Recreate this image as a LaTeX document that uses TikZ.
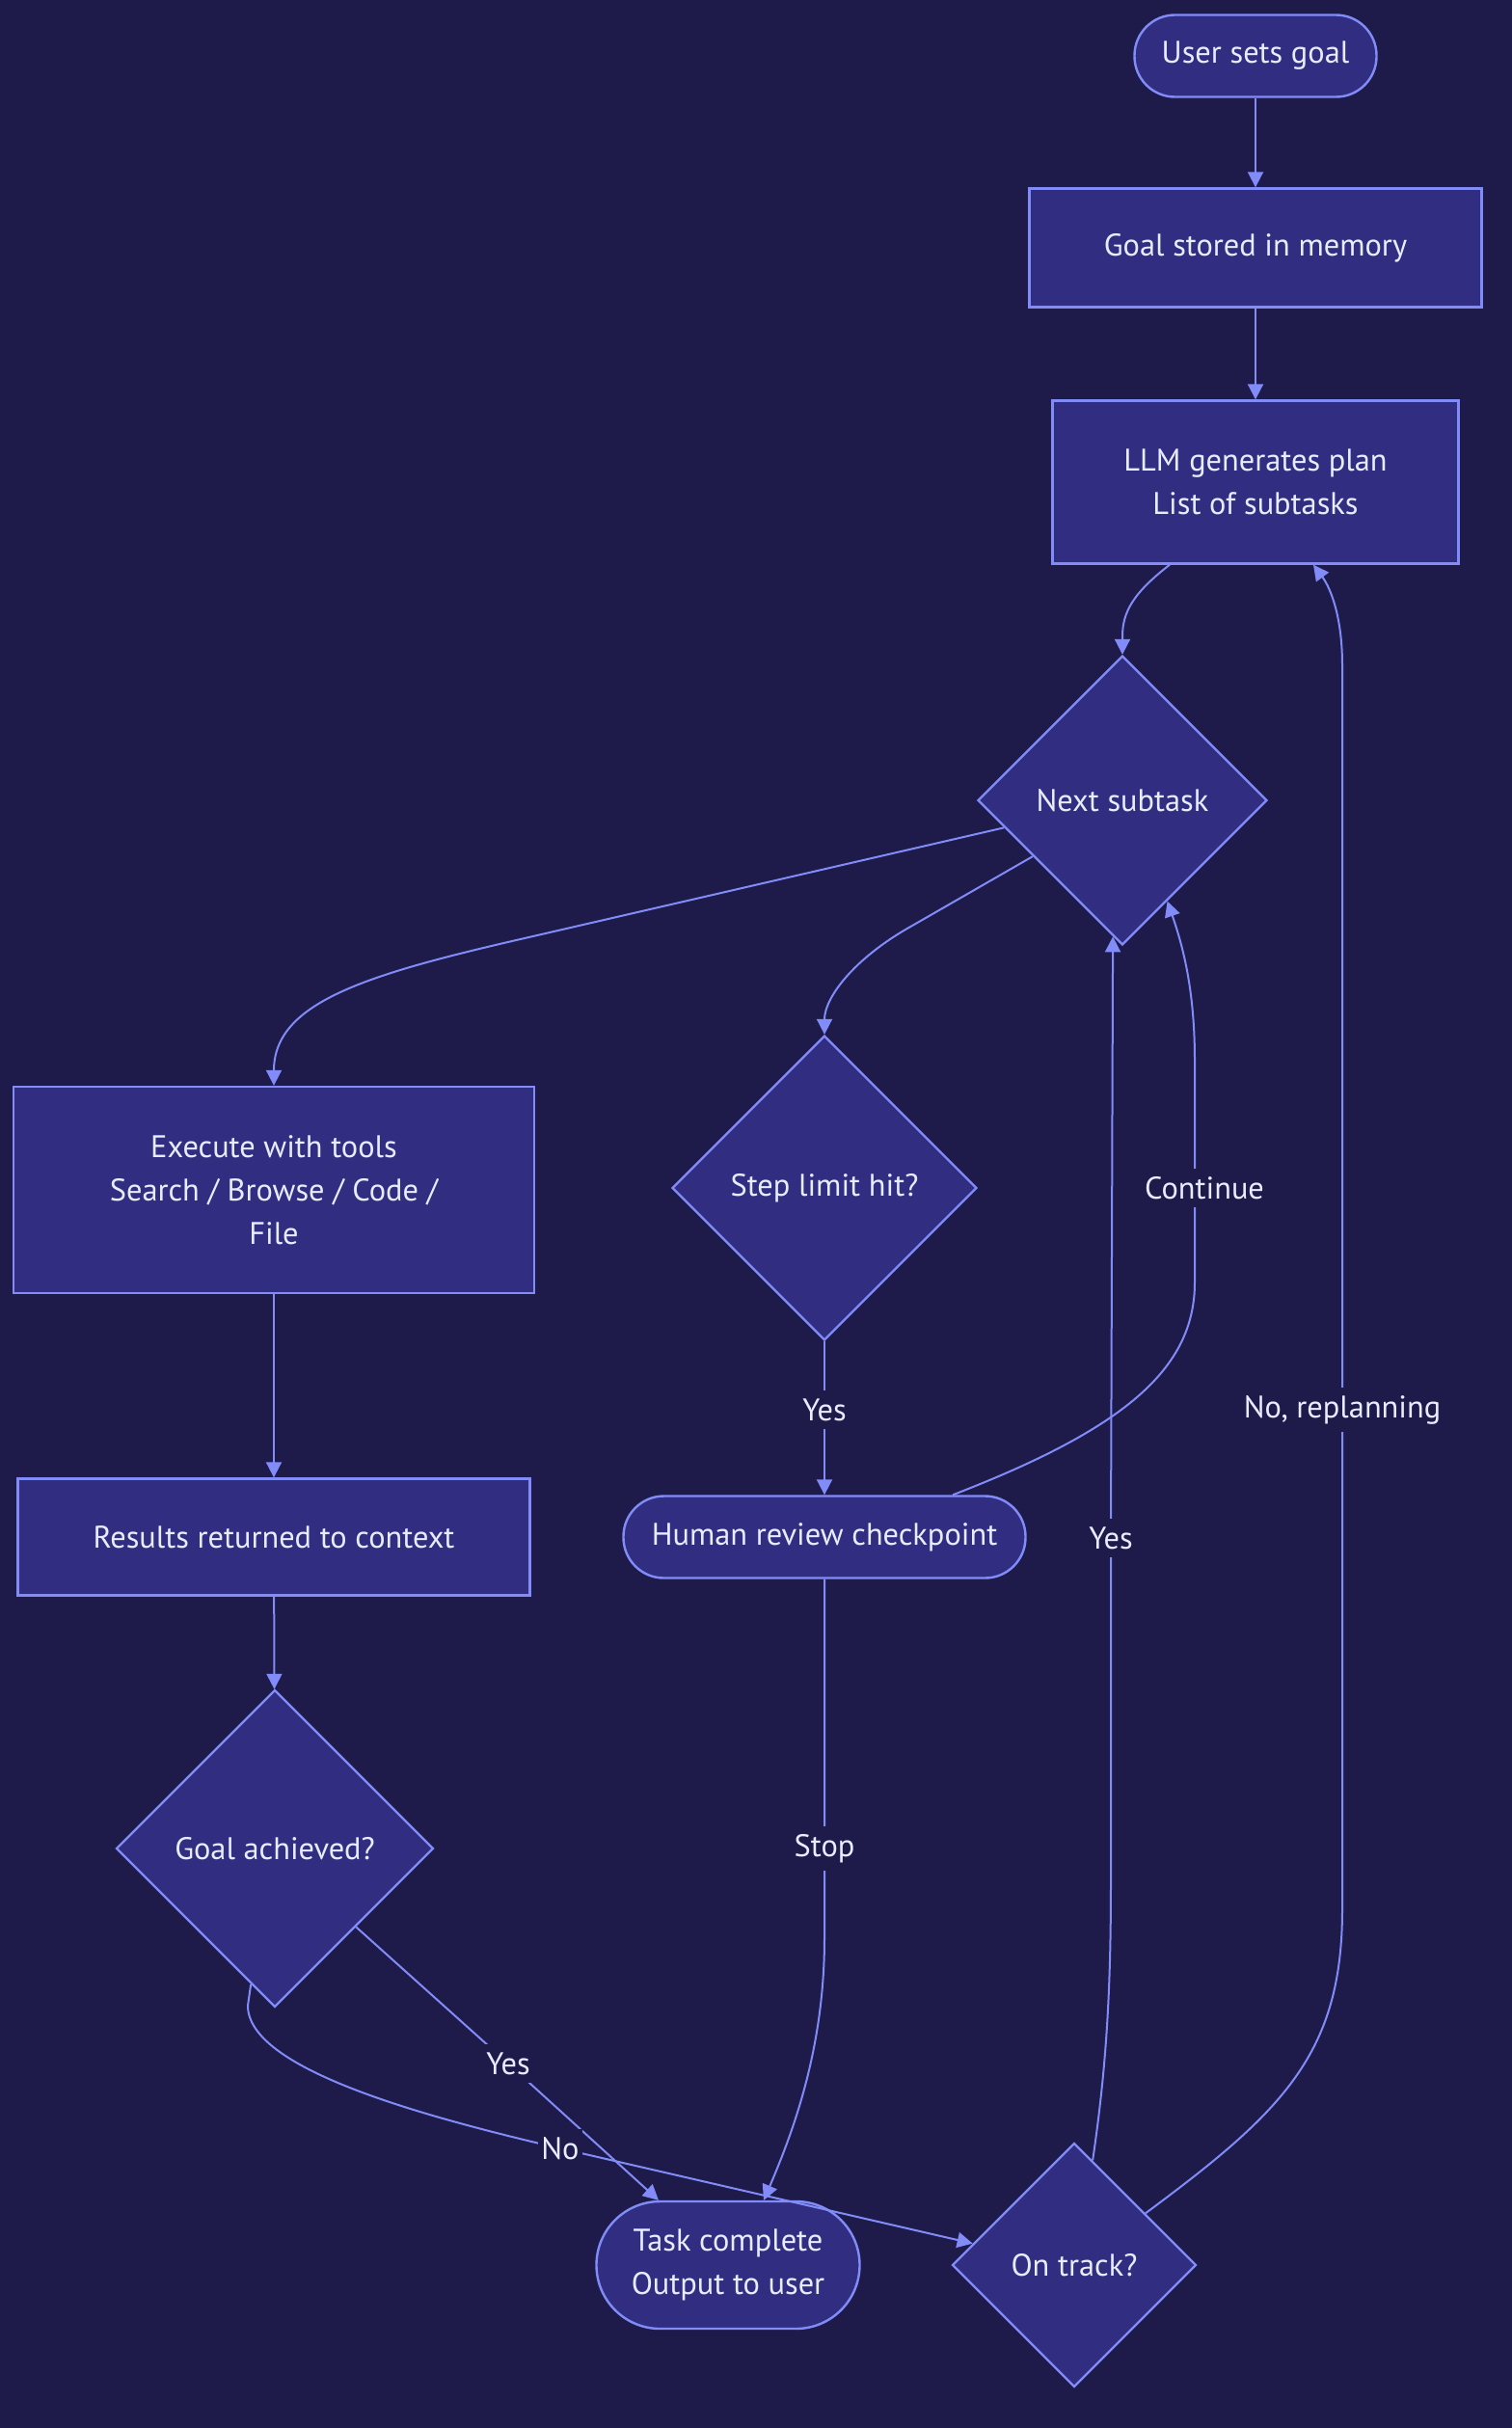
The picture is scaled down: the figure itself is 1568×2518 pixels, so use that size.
\documentclass[tikz,border=0pt]{standalone}
\usepackage{fontspec}
\setmainfont{PT Sans}
\usetikzlibrary{shapes.geometric,arrows.meta,calc}
\definecolor{bg}{HTML}{1E1B4B}
\definecolor{nodefill}{HTML}{312E81}
\definecolor{stroke}{HTML}{818CF8}
\definecolor{txt}{HTML}{E8ECFF}
\newcommand{\nodefont}{\fontsize{16.2}{22.5}\selectfont}
\begin{document}
\begin{tikzpicture}[x=0.5pt,y=-0.5pt,
  box/.style={draw=stroke, fill=nodefill, line width=1.2pt, text=txt, align=center, inner sep=0pt, font=\nodefont},
  rbox/.style={box, rounded corners=#1},
  dia/.style={box, diamond, shape aspect=1, minimum width=#1, minimum height=#1},
  conn/.style={draw=stroke, line width=1pt, -{Triangle[length=8pt,width=8pt]}},
  lbl/.style={fill=bg, text=txt, font=\nodefont, inner xsep=1.5pt, inner ysep=4pt}]
\fill[bg] (0,0) rectangle (1568,2518);
\useasboundingbox (0,0) rectangle (1568,2518);

\node[rbox=21pt, minimum width=125.5pt, minimum height=42.5pt] (us) at (1302,58) {User sets goal};
\node[box, minimum width=234.5pt, minimum height=61.5pt] (gs) at (1302,257) {Goal stored in memory};
\node[box, minimum width=210.5pt, minimum height=84.5pt] (llm) at (1302,500) {LLM generates plan\\List of subtasks};
\node[dia=150pt] (ns) at (1164,830) {Next subtask};
\node[box, minimum width=270pt, minimum height=107pt] (ex) at (284,1234) {Execute with tools\\Search / Browse / Code /\\File};
\node[dia=158pt] (sl) at (855,1232) {Step limit hit?};
\node[box, minimum width=265.5pt, minimum height=60.5pt] (rr) at (284,1594) {Results returned to context};
\node[rbox=21pt, minimum width=208.5pt, minimum height=42.5pt] (hr) at (855,1594) {Human review checkpoint};
\node[dia=164.5pt] (ga) at (285,1917) {Goal achieved?};
\node[rbox=33pt, minimum width=136.5pt, minimum height=66pt] (tc) at (755,2349) {Task complete\\Output to user};
\node[dia=126.5pt] (ot) at (1114,2349) {On track?};

\draw[conn] (us) -- (gs);
\draw[conn] (gs) -- (llm);
\draw[conn] ($(llm.south)+(-89,0)$) .. controls (1175,615) and (1164,635) .. (1164,660) -- (ns.north);
\draw[conn] (ns.193) -- (544,973) .. controls (378,1011) and (284,1040) .. (ex.north);
\draw[conn] (ns.212) -- (946,960) .. controls (885,994) and (855,1035) .. (sl.north);
\draw[conn] (sl.south) -- (855,1462) node[lbl]{Yes} -- (hr.north);
\draw[conn] ($(hr.north)+(133,0)$) .. controls (1165,1482) and (1239,1420) .. (1239,1330) -- (1239,1232) node[lbl, xshift=5pt]{Continue} -- (1239,1100) .. controls (1239,1030) and (1228,985) .. (ns.-66);
\draw[conn] (hr.south) -- (855,1917) node[lbl]{Stop} -- (855,2010) .. controls (855,2120) and (825,2205) .. ($(tc.north)+(37,0)$);
\draw[conn] (ex) -- (rr);
\draw[conn] (rr) -- (ga);
\draw[conn] (ga.-44) -- (527,2140) node[lbl]{Yes} -- ($(tc.north)+(-72,0)$);
\draw[conn] (ga.-100) -- (257,2080) .. controls (257,2145) and (435,2194) .. (581,2228) node[lbl]{No} -- (ot.168);
\draw[conn] (ot.80) .. controls (1148,2140) and (1152,2060) .. (1152,1950) -- (1152,1595) node[lbl]{Yes} -- (ns.266);
\draw[conn] (ot.36) .. controls (1330,2190) and (1392,2130) .. (1392,1980) -- (1392,1462) node[lbl]{No, replanning} -- (1392,690) .. controls (1392,640) and (1380,610) .. ($(llm.south)+(60,0)$);
\end{tikzpicture}
\end{document}
